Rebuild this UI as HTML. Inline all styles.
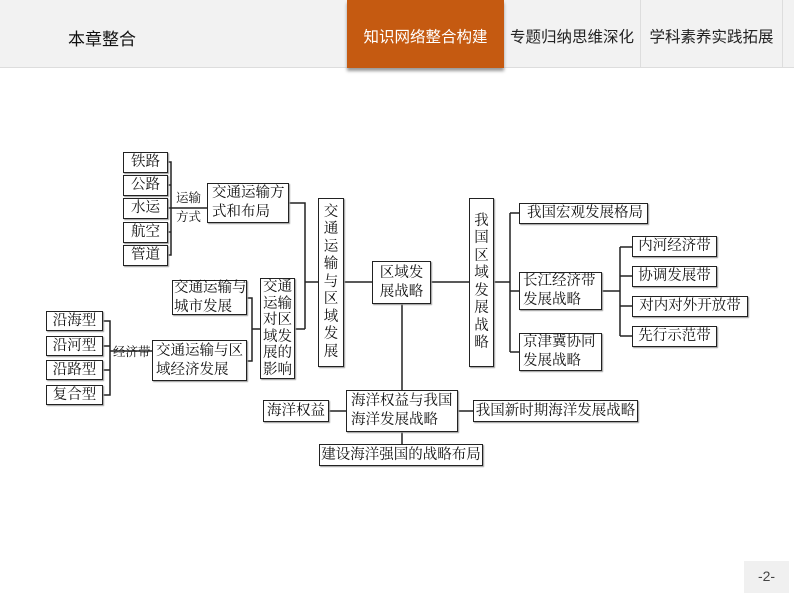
<!DOCTYPE html>
<html><head><meta charset="utf-8"><style>
*{margin:0;padding:0;box-sizing:border-box}
body{width:794px;height:596px;background:#fff;position:relative;overflow:hidden;font-family:"Liberation Serif","Noto Serif CJK SC","Noto Sans CJK SC",serif;color:#111}
.hdr{position:absolute;left:0;top:0;width:794px;height:68px;background:#f2f2f2;border-bottom:1px solid #ddd}
.t{position:absolute;font-family:"Liberation Sans","Noto Sans CJK SC",sans-serif;font-size:15.5px;color:#222;white-space:nowrap}
.b{position:absolute;border:1.5px solid #222;background:#fff;display:flex;align-items:center;justify-content:center;font-size:14.5px;line-height:19px;text-align:center;box-shadow:1px 1px 1px #999;white-space:nowrap}
.j{justify-content:flex-start;text-align:left;padding-left:4px}
.v{line-height:17.5px;flex-direction:column}
.l{position:absolute;font-size:12.5px;line-height:14px}
svg{position:absolute;left:0;top:0}
</style></head><body>
<div class="hdr"></div>
<div class="t" style="left:68px;top:25px;font-size:17px;color:#111">本章整合</div>
<div style="position:absolute;left:347px;top:0;width:157px;height:68px;background:#c55a11;box-shadow:0 3px 3px #999"></div>
<div class="t" style="left:347px;top:25px;width:157px;text-align:center;color:#fff">知识网络整合构建</div>
<div class="t" style="left:504px;top:25px;width:136px;text-align:center">专题归纳思维深化</div>
<div style="position:absolute;left:640px;top:0;width:1px;height:68px;background:#ddd"></div>
<div class="t" style="left:641px;top:25px;width:141px;text-align:center">学科素养实践拓展</div>
<div style="position:absolute;left:782px;top:0;width:1px;height:68px;background:#ddd"></div>
<div style="position:absolute;left:744px;top:561px;width:45px;height:32px;background:#f0f0f0"></div>
<div class="t" style="left:744px;top:568px;width:45px;text-align:center;font-size:14px;color:#444">-2-</div>

<svg width="794" height="596"><g stroke="#222" stroke-width="1.5" fill="none">
<path d="M164 162H171V255H164M164 185H171M164 208H171M164 232H171M171 208H207"/>
<path d="M289 203H305V329M305 282H318M295 329H305"/>
<path d="M247 298H252V361H247M252 329H260"/>
<path d="M103 321H110V395H103M103 346H110M103 370H110M110 351H152"/>
<path d="M343 282H372M431 282H469M402 304V390M329 411H346M458 411H473M402 432V444"/>
<path d="M494 282H510M510 213V352M510 213H519M510 291H519M510 352H519"/>
<path d="M602 291H620M620 247V336M620 247H632M620 276H632M620 306H632M620 336H632"/>
</g></svg>

<div class="b" style="left:123px;top:152px;width:45px;height:21px">铁路</div>
<div class="b" style="left:123px;top:175px;width:45px;height:21px">公路</div>
<div class="b" style="left:123px;top:198px;width:45px;height:21px">水运</div>
<div class="b" style="left:123px;top:222px;width:45px;height:21px">航空</div>
<div class="b" style="left:123px;top:245px;width:45px;height:21px">管道</div>
<div class="l" style="left:176px;top:191px">运输</div>
<div class="l" style="left:176px;top:210px">方式</div>
<div class="b j" style="left:207px;top:183px;width:82px;height:40px">交通运输方<br>式和布局</div>
<div class="b v" style="left:318px;top:198px;width:26px;height:169px">交<br>通<br>运<br>输<br>与<br>区<br>域<br>发<br>展</div>
<div class="b j" style="left:172px;top:280px;width:75px;height:35px;padding-left:1px">交通运输与<br>城市发展</div>
<div class="b j" style="left:152px;top:340px;width:95px;height:41px;padding-left:3px">交通运输与区<br>域经济发展</div>
<div class="b v" style="left:260px;top:278px;width:35px;height:101px;line-height:16.5px">交通<br>运输<br>对区<br>域发<br>展的<br>影响</div>
<div class="b" style="left:46px;top:311px;width:57px;height:20px">沿海型</div>
<div class="b" style="left:46px;top:336px;width:57px;height:20px">沿河型</div>
<div class="b" style="left:46px;top:360px;width:57px;height:20px">沿路型</div>
<div class="b" style="left:46px;top:385px;width:57px;height:20px">复合型</div>
<div class="l" style="left:113px;top:345px">经济带</div>
<div class="b" style="left:372px;top:261px;width:59px;height:43px">区域发<br>展战略</div>
<div class="b v" style="left:469px;top:198px;width:25px;height:169px">我<br>国<br>区<br>域<br>发<br>展<br>战<br>略</div>
<div class="b j" style="left:519px;top:203px;width:129px;height:21px;padding-left:7px">我国宏观发展格局</div>
<div class="b j" style="left:519px;top:272px;width:83px;height:38px;padding-left:3px">长江经济带<br>发展战略</div>
<div class="b j" style="left:519px;top:333px;width:83px;height:38px;padding-left:3px">京津冀协同<br>发展战略</div>
<div class="b" style="left:632px;top:236px;width:85px;height:21px">内河经济带</div>
<div class="b" style="left:632px;top:266px;width:85px;height:21px">协调发展带</div>
<div class="b" style="left:632px;top:296px;width:116px;height:21px">对内对外开放带</div>
<div class="b" style="left:632px;top:326px;width:85px;height:21px">先行示范带</div>
<div class="b j" style="left:346px;top:390px;width:112px;height:42px;padding-left:4px">海洋权益与我国<br>海洋发展战略</div>
<div class="b" style="left:263px;top:400px;width:66px;height:22px">海洋权益</div>
<div class="b" style="left:473px;top:400px;width:165px;height:22px">我国新时期海洋发展战略</div>
<div class="b" style="left:319px;top:444px;width:164px;height:22px">建设海洋强国的战略布局</div>
</body></html>
